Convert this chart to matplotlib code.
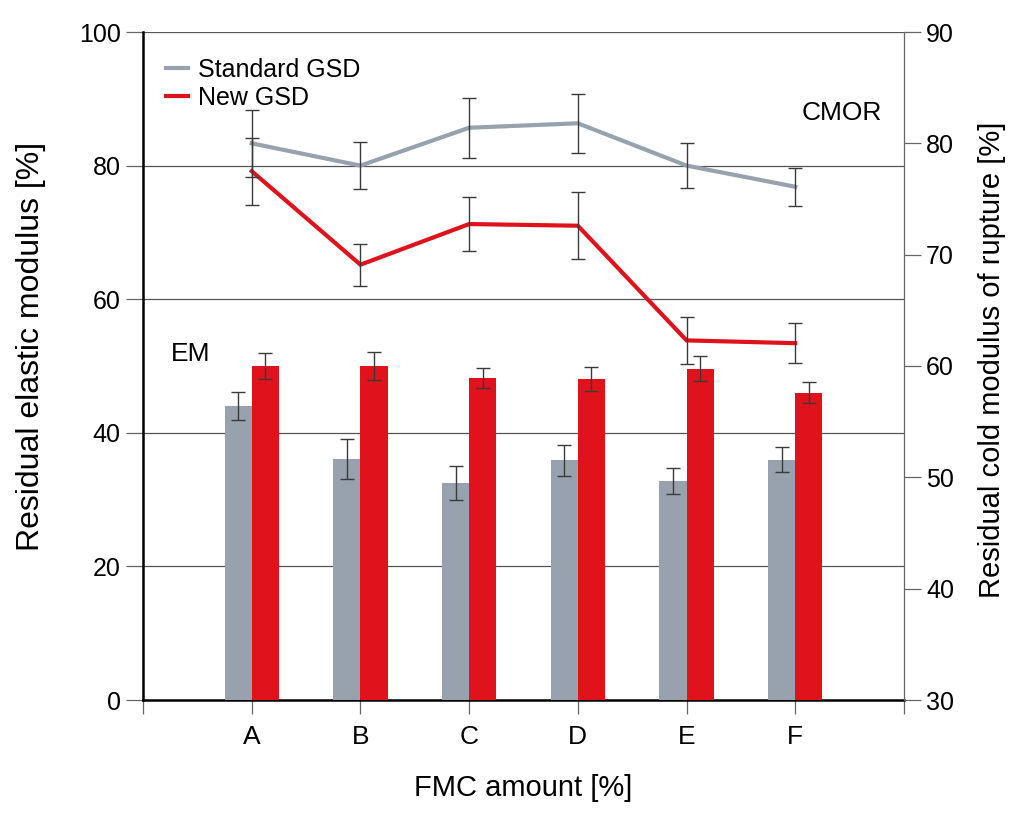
import numpy as np
import matplotlib
matplotlib.use('Agg')
import matplotlib.pyplot as plt

# data
categories = ['A', 'B', 'C', 'D', 'E', 'F']
em_standard = [44.0, 36.1, 32.5, 35.9, 32.8, 36.0]
em_standard_err = [2.1, 3.0, 2.5, 2.3, 1.9, 1.9]
em_new = [50.0, 50.0, 48.2, 48.0, 49.6, 46.0]
em_new_err = [2.0, 2.1, 1.5, 1.8, 1.9, 1.6]
cmor_standard = [80.0, 78.0, 81.4, 81.8, 78.0, 76.1]
cmor_standard_err = [3.0, 2.1, 2.7, 2.65, 2.0, 1.7]
cmor_new = [77.5, 69.1, 72.75, 72.6, 62.3, 62.05]
cmor_new_err = [3.0, 1.9, 2.4, 3.0, 2.1, 1.8]

grey = '#98a2ae'
red = '#e0121c'
errc = '#3a3a3a'

plt.rcParams['font.family'] = ['Liberation Sans', 'DejaVu Sans']

fig = plt.figure(figsize=(10.24, 8.16), dpi=100)
ax = fig.add_axes([143/1024, 1 - 700/816, (904-143)/1024, (700-32)/816])
ax2 = ax.twinx()

x = np.arange(len(categories))
w = 0.25
ax.bar(x - w/2, em_standard, w, color=grey, zorder=3)
ax.bar(x + w/2, em_new, w, color=red, zorder=3)
ax.errorbar(x - w/2, em_standard, yerr=em_standard_err, fmt='none', ecolor=errc,
            elinewidth=1, capsize=5, capthick=1, zorder=4)
ax.errorbar(x + w/2, em_new, yerr=em_new_err, fmt='none', ecolor=errc,
            elinewidth=1, capsize=5, capthick=1, zorder=4)

ax2.plot(x, cmor_standard, color=grey, lw=3, solid_joinstyle='miter', label='Standard GSD', zorder=3)
ax2.plot(x, cmor_new, color=red, lw=3, solid_joinstyle='miter', label='New GSD', zorder=3)
ax2.errorbar(x, cmor_standard, yerr=cmor_standard_err, fmt='none', ecolor=errc,
             elinewidth=1, capsize=5, capthick=1, zorder=4)
ax2.errorbar(x, cmor_new, yerr=cmor_new_err, fmt='none', ecolor=errc,
             elinewidth=1, capsize=5, capthick=1, zorder=4)

ax.set_xlim(-1, 6)
ax.set_ylim(0, 100)
ax2.set_ylim(30, 90)
ax.set_yticks([0, 20, 40, 60, 80, 100])
ax2.set_yticks([30, 40, 50, 60, 70, 80, 90])
ax.set_xticks([-1, 0, 1, 2, 3, 4, 5, 6])
ax.set_xticklabels([''] + categories + [''], fontsize=19)

for yv in [20, 40, 60, 80, 100]:
    ax.axhline(yv, color='#555555', lw=0.9, zorder=1)

ax.spines['top'].set_visible(False)
ax2.spines['top'].set_visible(False)
ax.spines['right'].set_visible(False)
ax.spines['left'].set_linewidth(1.8)
ax.spines['bottom'].set_linewidth(1.8)
ax2.spines['left'].set_visible(False)
ax2.spines['bottom'].set_visible(False)
ax2.spines['right'].set_color('#666666')
ax2.spines['right'].set_linewidth(0.9)

ax.tick_params(axis='y', length=12, width=0.9, color='#666666', labelsize=18, pad=4)
ax.tick_params(axis='x', length=10, width=0.9, color='#666666', pad=8)
ax2.tick_params(axis='y', length=12, width=0.9, color='#666666', labelsize=18, pad=4)

ax.set_ylabel('Residual elastic modulus [%]', fontsize=23)
ax.yaxis.set_label_coords(-0.128, 0.53)
ax2.set_ylabel('Residual cold modulus of rupture [%]', fontsize=21)
ax2.yaxis.set_label_coords(1.097, 0.51)
ax.set_xlabel('FMC amount [%]', fontsize=21, labelpad=18)

ax2.text(5.43, 82.7, 'CMOR', fontsize=19, ha='center', va='center')
ax.text(-0.56, 51.8, 'EM', fontsize=19, ha='center', va='center')

ax2.legend(loc='upper left', bbox_to_anchor=(0.0, 0.995), frameon=False,
           handlelength=0.9, handletextpad=0.4, labelspacing=0.15,
           prop={'size': 18})

fig.savefig('out.png', dpi=100)
